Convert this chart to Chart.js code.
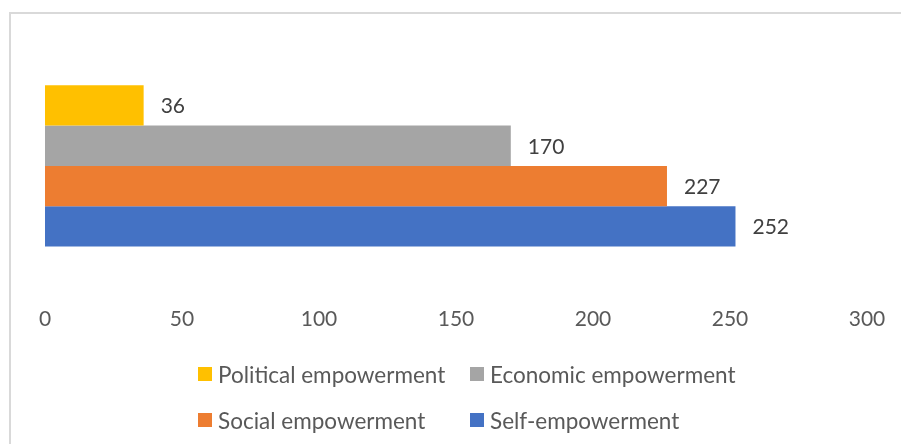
<!DOCTYPE html>
<html>
<head>
<meta charset="utf-8">
<script src="https://cdn.jsdelivr.net/npm/chart.js@4.4.0/dist/chart.umd.min.js"></script>
<style>
  body { margin: 0; background: #fff; font-family: Lato, sans-serif; }
  #wrap { position: relative; width: 901px; height: 444px; overflow: hidden; }
  #frame { position: absolute; left: 9px; top: 12px; width: 1000px; height: 1000px;
           border-left: 2px solid #d9d9d9; border-top: 2px solid #d9d9d9; }
  #chart { position: absolute; left: 0; top: 0; }
  .lg { position: absolute; display: flex; align-items: center; color: #595959; font-size: 22.5px; white-space: nowrap; }
  .lg span.box { width: 14px; height: 14px; margin-right: 6px; display: inline-block; }
</style>
</head>
<body>
<div id="wrap">
  <div id="frame"></div>
  <canvas id="chart" width="901" height="444"></canvas>
  <div id="legend"></div>
</div>
<script>
// dati del grafico
const categories = ['Empowerment'];
const seriesNames = ['Political empowerment', 'Economic empowerment', 'Social empowerment', 'Self-empowerment'];
const seriesValues = [36, 170, 227, 252];
const seriesColors = ['#FFC000', '#A5A5A5', '#ED7D31', '#4472C4'];
const xTicks = [0, 50, 100, 150, 200, 250, 300];

// etichette dei valori a destra delle barre
const valueLabels = {
    id: 'valueLabels',
    afterDatasetsDraw(chart) {
        const ctx = chart.ctx;
        ctx.save();
        ctx.font = '21px Lato';
        ctx.fillStyle = '#404040';
        ctx.textBaseline = 'middle';
        chart.data.datasets.forEach(function(ds, i) {
            const bar = chart.getDatasetMeta(i).data[0];
            ctx.fillText(String(ds.data[0]), bar.x + 17, bar.y + 1);
        });
        ctx.restore();
    }
};

const ctx = document.getElementById('chart').getContext('2d');
const chart = new Chart(ctx, {
    type: 'bar',
    data: {
        labels: categories,
        datasets: seriesNames.map(function(name, i) {
            return {
                label: name,
                data: [seriesValues[i]],
                backgroundColor: seriesColors[i],
                barPercentage: 1,
                categoryPercentage: 0.593
            };
        })
    },
    options: {
        indexAxis: 'y',
        responsive: false,
        animation: false,
        layout: { padding: { left: 45, right: 34, top: 30, bottom: 107 } },
        plugins: { legend: { display: false }, tooltip: { enabled: false } },
        scales: {
            y: { display: false },
            x: {
                min: 0, max: 300,
                afterBuildTicks: function(axis) { axis.ticks = xTicks.map(v => ({ value: v })); },
                grid: { display: false, drawTicks: false },
                border: { display: false },
                ticks: { color: '#595959', font: { family: 'Lato', size: 21 }, padding: 5 }
            }
        }
    },
    plugins: [valueLabels]
});

// legenda HTML a due colonne
const legendPos = [[198, 374], [470, 374], [198, 420], [470, 420]];
const legend = document.getElementById('legend');
chart.data.datasets.forEach(function(ds, i) {
    const item = document.createElement('div');
    item.className = 'lg';
    item.style.left = legendPos[i][0] + 'px';
    item.style.top = (legendPos[i][1] - 14) + 'px';
    item.style.height = '28px';
    item.innerHTML = '<span class="box" style="background:' + ds.backgroundColor + '"></span>' + ds.label;
    legend.appendChild(item);
});
</script>
</body>
</html>
